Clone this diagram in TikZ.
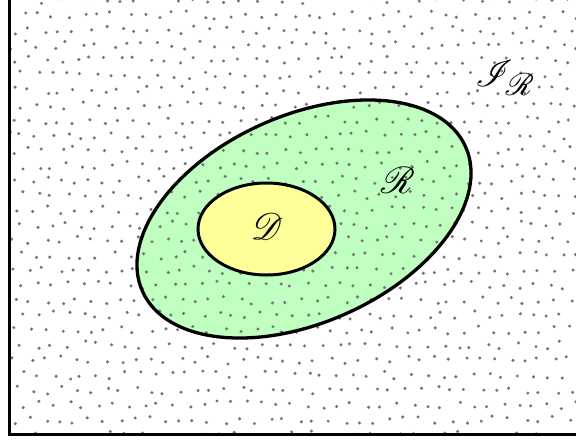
\documentclass[tikz,border=0pt]{standalone}
\usepackage{mathrsfs}
\definecolor{regiongreen}{HTML}{BFFFBF}
\definecolor{domainyellow}{HTML}{FFFF99}
\definecolor{dotgray}{HTML}{757575}
\begin{document}
\begin{tikzpicture}[x=1pt,y=-1pt]
\tikzset{
  outline/.style={draw=black,line width=3.3pt},
  dotmark/.style={fill=dotgray,draw=none},
  setlabel/.style={font=\Huge,inner sep=0pt,scale=1.5,transform shape}
}
\useasboundingbox (0,0) rectangle (576,440);
\fill[white] (0,0) rectangle (576,440);
% the region R
\fill[regiongreen,rotate around={24.1:(304,219)}] (304,219) ellipse [x radius=177,y radius=103.6];
% dotted background
\begin{scope}
\clip (9,0) rectangle (576,434);
\pgfmathsetseed{7}
\foreach \col in {0,...,39}{
  \foreach \row in {0,...,29}{
    \pgfmathsetmacro{\dx}{\col*15+4*rand+(mod(\row,2))*7.5}
    \pgfmathsetmacro{\dy}{\row*15+4*rand}
    \fill[dotmark] (\dx,\dy) circle[radius=1.7];
  }
}
\end{scope}
% the domain D
\filldraw[fill=domainyellow,outline,line width=3pt] (266.5,229) ellipse [x radius=68.5,y radius=46];
\draw[outline,rotate around={24.1:(304,219)}] (304,219) ellipse [x radius=177,y radius=103.6];
% frame
\draw[line width=3pt] (9,0) -- (9,434.5) -- (576,434.5);
% labels
\node[setlabel] (lab_D) at (267,226) {$\mathscr{D}$};
\node[setlabel] (lab_R) at (398,180) {$\mathscr{R}$};
\node[setlabel] (lab_IR) at (505,78) {$\mathscr{I}_{\mathscr{R}}$};
\end{tikzpicture}
\end{document}
